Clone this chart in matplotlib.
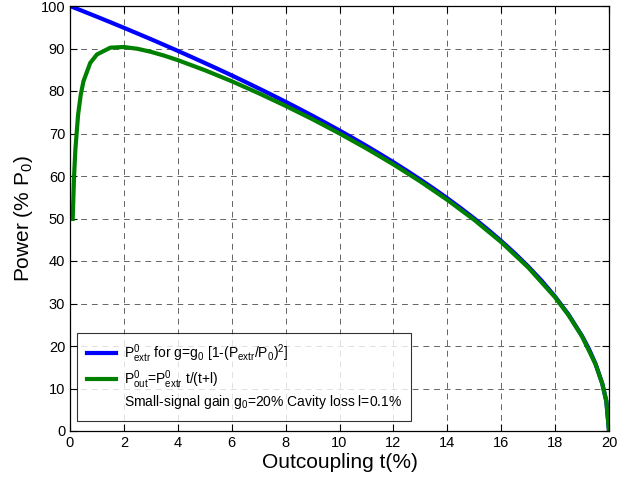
import matplotlib
matplotlib.use("Agg")
import matplotlib.pyplot as plt
from matplotlib.lines import Line2D

plt.rcParams['font.family'] = ['Liberation Sans', 'DejaVu Sans']
plt.rcParams['mathtext.fontset'] = 'custom'
plt.rcParams['mathtext.rm'] = 'Liberation Sans'
plt.rcParams['mathtext.it'] = 'Liberation Sans'
plt.rcParams['mathtext.default'] = 'rm'

# Blue: extracted power
t_extr = [0, 0.5, 1, 1.5, 2, 2.5, 3, 3.5, 4, 4.5, 5, 5.5, 6, 6.5, 7, 7.5, 8, 8.5, 9, 9.5,
          10, 10.5, 11, 11.5, 12, 12.5, 13, 13.5, 14, 14.5, 15, 15.5, 16, 16.5, 17, 17.5,
          18, 18.5, 19, 19.25, 19.5, 19.75, 19.9, 20]
p_extr = [100, 98.74, 97.47, 96.18, 94.87, 93.54, 92.20, 90.83, 89.44, 88.03, 86.60, 85.15,
          83.67, 82.16, 80.62, 79.06, 77.46, 75.83, 74.16, 72.46, 70.71, 68.92, 67.08, 65.19,
          63.25, 61.24, 59.16, 57.01, 54.77, 52.44, 50.00, 47.43, 44.72, 41.83, 38.73, 35.36,
          31.62, 27.39, 22.36, 19.36, 15.81, 11.18, 7.07, 0]

# Green: output power
t_out = [0.1, 0.15, 0.2, 0.3, 0.4, 0.5, 0.75, 1, 1.5, 2, 2.5, 3, 3.5, 4, 5, 6, 7, 8, 9,
         10, 11, 12, 13, 14, 15, 16, 17, 18, 18.5, 19, 19.5, 19.75, 19.9, 20]
p_out = [49.9, 59.8, 66.3, 74.4, 79.2, 82.3, 86.6, 88.6, 90.2, 90.35, 89.94, 89.22, 88.31,
         87.26, 84.90, 82.30, 79.48, 76.50, 73.35, 70.01, 66.48, 62.73, 58.71, 54.38, 49.67,
         44.44, 38.50, 31.45, 27.24, 22.24, 15.73, 11.12, 7.03, 0]

xticks = list(range(0, 21, 2))
yticks = list(range(0, 101, 10))

fig = plt.figure(figsize=(6.17, 4.91), dpi=100)
ax = fig.add_axes([70/617, 60/491, 539/617, 425/491])

ax.plot(t_extr, p_extr, color='#0000FF', lw=3.0, solid_joinstyle='round')
ax.plot(t_out, p_out, color='#008000', lw=3.0, solid_joinstyle='round')

ax.set_xlim(0, 20)
ax.set_ylim(0, 100)
ax.set_xticks(xticks)
ax.set_yticks(yticks)
ax.tick_params(direction='in', length=5, top=True, right=True, labelsize=10.5, width=0.8)
ax.grid(True, color='#222222', linestyle=(0, (6, 5)), linewidth=0.7, alpha=0.7)
for s in ax.spines.values():
    s.set_linewidth(0.9)

ax.set_xlabel('Outcoupling t(%)', fontsize=15, labelpad=2)
ax.set_ylabel('Power (% P$_0$)', fontsize=15, labelpad=4)

handles = [
    Line2D([], [], color='#0000FF', lw=3.0),
    Line2D([], [], color='#008000', lw=3.0),
    Line2D([], [], color='none', lw=0),
]
labels = [
    r'P$^0_{extr}$ for g=g$_0$ [1-(P$_{extr}$/P$_0$)$^2$]',
    r'P$^0_{out}$=P$^0_{extr}$ t/(t+l)',
    'Small-signal gain g$_0$=20% Cavity loss l=0.1%',
]
leg = ax.legend(handles, labels, loc='lower left', bbox_to_anchor=(0.013, 0.0235),
                fontsize=10, frameon=True, fancybox=False, edgecolor='black',
                handlelength=2.1, handletextpad=0.55, borderpad=0.7, labelspacing=0.2,
                borderaxespad=0)
leg.get_frame().set_linewidth(0.8)

fig.savefig('out.png', dpi=100)
